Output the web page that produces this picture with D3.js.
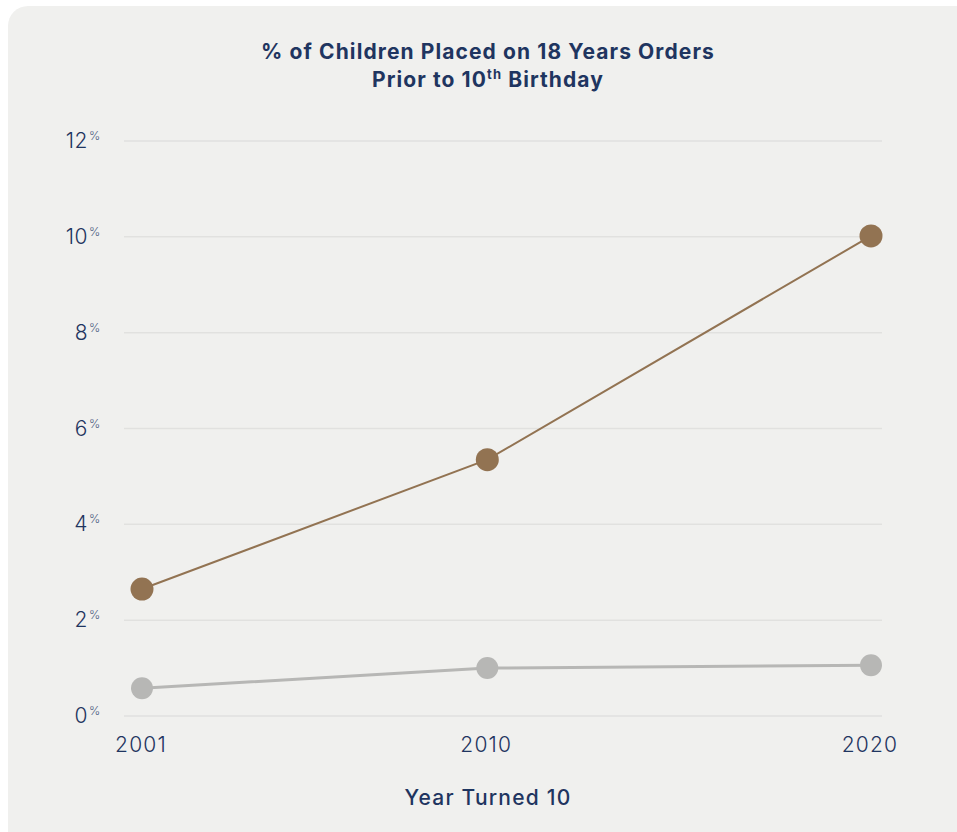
<!DOCTYPE html>
<html>
<head>
<meta charset="utf-8">
<script src="https://cdn.jsdelivr.net/npm/d3@7"></script>
<style>
  html, body { margin: 0; padding: 0; background: #ffffff; }
  svg { display: block; }
</style>
</head>
<body>
<svg id="chart"></svg>
<script>
// data
const years = [2001, 2010, 2020]
const placedPct = [2.65, 5.35, 10.02]
const comparePct = [0.58, 1.0, 1.06]
const yTicks = [0, 2, 4, 6, 8, 10, 12]

const width = 957, height = 832
const navy = '#1f3560'
const brown = '#927352'
const grey = '#b7b7b5'

const svg = d3.select('#chart').attr('width', width).attr('height', height)

// card background
svg.append('rect')
  .attr('x', 8).attr('y', 6)
  .attr('width', 980).attr('height', 860)
  .attr('rx', 20)
  .attr('fill', '#f0f0ee')

const x = d3.scaleLinear().domain([2001, 2020]).range([142, 871])
const y = d3.scaleLinear().domain([0, 12]).range([716, 141])

// gridlines
svg.append('g')
  .selectAll('line')
  .data(yTicks)
  .enter()
  .append('line')
  .attr('x1', 124).attr('x2', 882)
  .attr('y1', d => y(d)).attr('y2', d => y(d))
  .attr('stroke', '#e1e1df')
  .attr('stroke-width', 1.5)

// y tick labels with superscript %
svg.append('g')
  .selectAll('text')
  .data(yTicks)
  .enter()
  .append('text')
  .attr('x', 88)
  .attr('y', d => y(d) + 7)
  .attr('text-anchor', 'end')
  .attr('font-family', 'Inter, sans-serif')
  .attr('font-weight', 300)
  .attr('font-size', 21)
  .attr('letter-spacing', 0.5)
  .attr('fill', navy)
  .text(d => d)

svg.append('g')
  .selectAll('text')
  .data(yTicks)
  .enter()
  .append('text')
  .attr('x', 89)
  .attr('y', d => y(d) - 1)
  .attr('font-family', 'Inter, sans-serif')
  .attr('font-weight', 300)
  .attr('font-size', 12)
  .attr('fill', '#4a5a7e')
  .text('%')

// x tick labels
svg.append('g')
  .selectAll('text')
  .data(years)
  .enter()
  .append('text')
  .attr('x', d => x(d) - 1)
  .attr('y', 752)
  .attr('text-anchor', 'middle')
  .attr('font-family', 'Inter, sans-serif')
  .attr('font-weight', 300)
  .attr('font-size', 21)
  .attr('letter-spacing', 1.2)
  .attr('fill', navy)
  .text(d => d)

// lines
const line = d3.line()
  .x((d, i) => x(years[i]))
  .y(d => y(d))

svg.append('path')
  .datum(comparePct)
  .attr('d', line)
  .attr('fill', 'none')
  .attr('stroke', grey)
  .attr('stroke-width', 3)

svg.append('path')
  .datum(placedPct)
  .attr('d', line)
  .attr('fill', 'none')
  .attr('stroke', brown)
  .attr('stroke-width', 2)

// points
svg.append('g')
  .selectAll('circle')
  .data(comparePct)
  .enter()
  .append('circle')
  .attr('cx', (d, i) => x(years[i]))
  .attr('cy', d => y(d))
  .attr('r', 11)
  .attr('fill', grey)

svg.append('g')
  .selectAll('circle')
  .data(placedPct)
  .enter()
  .append('circle')
  .attr('cx', (d, i) => x(years[i]))
  .attr('cy', d => y(d))
  .attr('r', 11.5)
  .attr('fill', brown)

// title
const title = svg.append('text')
  .attr('x', 488)
  .attr('text-anchor', 'middle')
  .attr('font-family', 'Inter, sans-serif')
  .attr('font-weight', 700)
  .attr('font-size', 21)
  .attr('letter-spacing', 1.1)
  .attr('fill', navy)

title.append('tspan').attr('x', 488).attr('y', 59)
  .text('% of Children Placed on 18 Years Orders')
const t2 = title.append('tspan').attr('x', 488).attr('y', 87)
t2.append('tspan').text('Prior to 10')
t2.append('tspan').attr('dy', -8).attr('font-size', 13).text('th')
t2.append('tspan').attr('dy', 8).text(' Birthday')

// x axis title
svg.append('text')
  .attr('x', 488)
  .attr('y', 805)
  .attr('text-anchor', 'middle')
  .attr('font-family', 'Inter, sans-serif')
  .attr('font-weight', 500)
  .attr('font-size', 21)
  .attr('letter-spacing', 1.2)
  .attr('fill', navy)
  .text('Year Turned 10')
</script>
</body>
</html>
